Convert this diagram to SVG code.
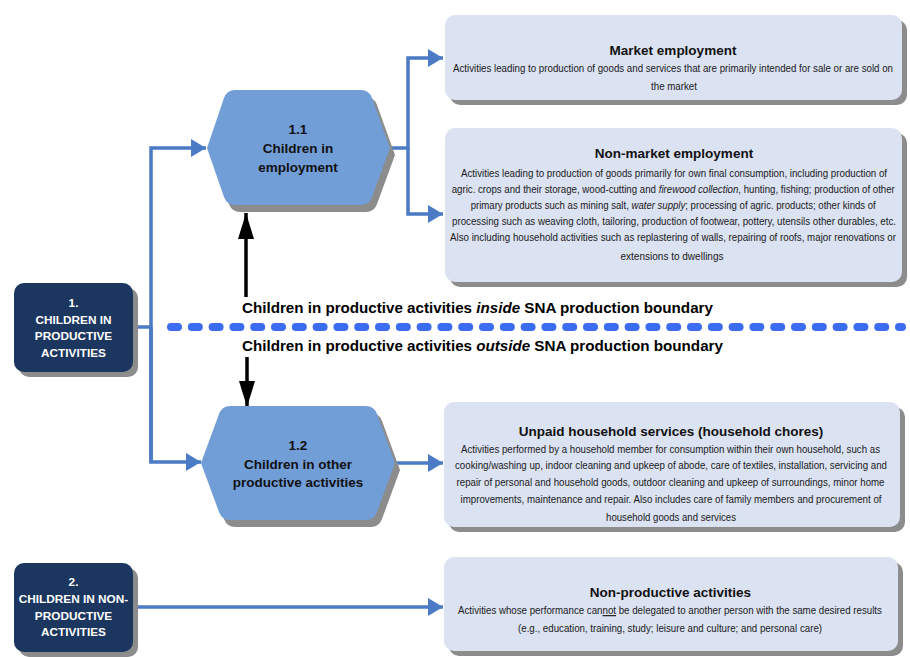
<svg xmlns="http://www.w3.org/2000/svg" width="910" height="657" viewBox="0 0 910 657">
<defs>
<style>
.conn{fill:none;stroke:#4a7bc4;stroke-width:3.5;}
.blk{fill:none;stroke:#000;stroke-width:3.5;}
.dash{fill:none;stroke:#3c6cf0;stroke-width:8;stroke-linecap:round;stroke-dasharray:7 13.8;}
.hex{fill:#729ed8;}
.shadow{fill:#8c8c8c;}
.navy{fill:#1b365f;}
.light{fill:#dbe2f2;}
.ntext{font-family:"Liberation Sans",Arial,sans-serif;font-weight:bold;font-size:11.8px;fill:#fff;text-anchor:middle;}
.htext{font-family:"Liberation Sans",Arial,sans-serif;font-weight:bold;font-size:13.5px;fill:#111;text-anchor:middle;}
.title{font-family:"Liberation Sans",Arial,sans-serif;font-weight:bold;font-size:13.5px;fill:#111;text-anchor:middle;}
.body{font-family:"Liberation Sans",Arial,sans-serif;font-size:11.5px;fill:#1a1a1a;text-anchor:middle;}
.seg{font-family:"Liberation Sans",Arial,sans-serif;font-size:11.5px;fill:#1a1a1a;}
.it{font-style:italic;}
.bound{font-family:"Liberation Sans",Arial,sans-serif;font-weight:bold;font-size:15.5px;fill:#000;}
</style>
<marker id="ab" markerUnits="userSpaceOnUse" markerWidth="16" markerHeight="18" refX="15" refY="9" orient="auto">
<path d="M0,0 L15,9 L0,18 Z" fill="#4a7bc4"/>
</marker>
<marker id="ak" markerUnits="userSpaceOnUse" markerWidth="26" markerHeight="16" refX="26" refY="8" orient="auto">
<path d="M0,0 L26,8 L0,16 Z" fill="#000"/>
</marker>
</defs>

<g id="connectors">
<polyline class="conn" points="133,327 151,327"/>
<polyline class="conn" points="151,462 151,148 206,148" marker-end="url(#ab)"/>
<polyline class="conn" points="151,327 151,462 201,462" marker-end="url(#ab)"/>
<polyline class="conn" points="390,148 408,148 408,58 443,58" marker-end="url(#ab)"/>
<polyline class="conn" points="408,148 408,214 443,214" marker-end="url(#ab)"/>
<line class="conn" x1="395" y1="463" x2="443" y2="463" marker-end="url(#ab)"/>
<line class="conn" x1="133" y1="607" x2="443" y2="607" marker-end="url(#ab)"/>
<line class="blk" x1="246" y1="297" x2="246" y2="213" marker-end="url(#ak)"/>
<line class="blk" x1="247" y1="357" x2="247" y2="407" marker-end="url(#ak)"/>
</g>

<g id="boundary">
<line class="dash" x1="171" y1="327" x2="902" y2="327"/>
<text class="bound" x="242" y="313" textLength="230" lengthAdjust="spacingAndGlyphs">Children in productive activities</text>
<text class="bound it" x="476.3" y="313" textLength="43.8" lengthAdjust="spacingAndGlyphs">inside</text>
<text class="bound" x="524.3" y="313" textLength="188.7" lengthAdjust="spacingAndGlyphs">SNA production boundary</text>
<text class="bound" x="242" y="351" textLength="230" lengthAdjust="spacingAndGlyphs">Children in productive activities</text>
<text class="bound it" x="476.2" y="351" textLength="53.9" lengthAdjust="spacingAndGlyphs">outside</text>
<text class="bound" x="534.3" y="351" textLength="188.7" lengthAdjust="spacingAndGlyphs">SNA production boundary</text>
</g>

<g id="node-1">
<rect class="shadow" x="19" y="288" width="119" height="89" rx="10"/>
<rect class="navy" x="14" y="283" width="119" height="89" rx="10"/>
<text class="ntext" x="73.5" y="307">1.</text>
<text class="ntext" x="73.5" y="323.5">CHILDREN IN</text>
<text class="ntext" x="73.5" y="340">PRODUCTIVE</text>
<text class="ntext" x="73.5" y="356.5">ACTIVITIES</text>
</g>

<g id="node-2">
<rect class="shadow" x="19" y="568" width="119" height="89" rx="10"/>
<rect class="navy" x="14" y="563" width="119" height="89" rx="10"/>
<text class="ntext" x="73.5" y="586">2.</text>
<text class="ntext" x="73.5" y="603">CHILDREN IN NON-</text>
<text class="ntext" x="73.5" y="620">PRODUCTIVE</text>
<text class="ntext" x="73.5" y="636">ACTIVITIES</text>
</g>

<g id="node-1-1">
<path class="shadow" transform="translate(5,7)" d="M207,148 L224,98 Q227,90 235,90 L361,90 Q369,90 372,98 L390,148 L372,197 Q369,205 361,205 L235,205 Q227,205 224,197 Z"/>
<path class="hex" d="M207,148 L224,98 Q227,90 235,90 L361,90 Q369,90 372,98 L390,148 L372,197 Q369,205 361,205 L235,205 Q227,205 224,197 Z"/>
<text class="htext" x="298" y="134">1.1</text>
<text class="htext" x="298" y="153">Children in</text>
<text class="htext" x="298" y="172">employment</text>
</g>

<g id="node-1-2">
<path class="shadow" transform="translate(5,7)" d="M201,463 L219,414 Q222,406 230,406 L366,406 Q374,406 377,414 L395,463 L377,512 Q374,520 366,520 L230,520 Q222,520 219,512 Z"/>
<path class="hex" d="M201,463 L219,414 Q222,406 230,406 L366,406 Q374,406 377,414 L395,463 L377,512 Q374,520 366,520 L230,520 Q222,520 219,512 Z"/>
<text class="htext" x="298" y="450">1.2</text>
<text class="htext" x="298" y="468.5">Children in other</text>
<text class="htext" x="298" y="487">productive activities</text>
</g>

<g id="market">
<rect class="shadow" x="450" y="20" width="457" height="85" rx="10"/>
<rect class="light" x="445" y="15" width="457" height="85" rx="10"/>
<text class="title" x="673" y="55">Market employment</text>
<text class="body" transform="translate(673,0) scale(0.83,1)" x="0" y="72" textLength="530.1" lengthAdjust="spacingAndGlyphs">Activities leading to production of goods and services that are primarily intended for sale or are sold on</text>
<text class="body" transform="translate(674,0) scale(0.83,1)" x="0" y="90" textLength="55.4" lengthAdjust="spacingAndGlyphs">the market</text>
</g>

<g id="non-market">
<rect class="shadow" x="450" y="133" width="457" height="154" rx="10"/>
<rect class="light" x="445" y="128" width="457" height="154" rx="10"/>
<text class="title" x="674" y="158">Non-market employment</text>
<text class="body" transform="translate(674,0) scale(0.83,1)" x="0" y="177" textLength="513.3" lengthAdjust="spacingAndGlyphs">Activities leading to production of goods primarily for own final consumption, including production of</text>
<text class="seg" transform="translate(451.7,0) scale(0.83,1)" x="0" y="193" textLength="246.1" lengthAdjust="spacingAndGlyphs">agric. crops and their storage, wood-cutting and</text>
<text class="seg it" transform="translate(658.7,0) scale(0.83,1)" x="0" y="193" textLength="95.9" lengthAdjust="spacingAndGlyphs">firewood collection</text>
<text class="seg" transform="translate(738.3,0) scale(0.83,1)" x="0" y="193" textLength="188.6" lengthAdjust="spacingAndGlyphs">, hunting, fishing; production of other</text>
<text class="seg" transform="translate(470.7,0) scale(0.83,1)" x="0" y="209" textLength="190.5" lengthAdjust="spacingAndGlyphs">primary products such as mining salt,</text>
<text class="seg it" transform="translate(631.5,0) scale(0.83,1)" x="0" y="209" textLength="64.8" lengthAdjust="spacingAndGlyphs">water supply</text>
<text class="seg" transform="translate(685.3,0) scale(0.83,1)" x="0" y="209" textLength="229.5" lengthAdjust="spacingAndGlyphs">; processing of agric. products; other kinds of</text>
<text class="body" transform="translate(674,0) scale(0.83,1)" x="0" y="225" textLength="534.9" lengthAdjust="spacingAndGlyphs">processing such as weaving cloth, tailoring, production of footwear, pottery, utensils other durables, etc.</text>
<text class="body" transform="translate(673,0) scale(0.83,1)" x="0" y="241" textLength="537.3" lengthAdjust="spacingAndGlyphs">Also including household  activities such as replastering of walls, repairing of roofs, major renovations or</text>
<text class="body" transform="translate(672,0) scale(0.83,1)" x="0" y="260" textLength="124.1" lengthAdjust="spacingAndGlyphs">extensions to dwellings</text>
</g>

<g id="unpaid">
<rect class="shadow" x="449" y="407" width="456" height="125" rx="10"/>
<rect class="light" x="444" y="402" width="456" height="125" rx="10"/>
<text class="title" x="671" y="436">Unpaid household services (household chores)</text>
<text class="body" transform="translate(670.5,0) scale(0.83,1)" x="0" y="453" textLength="504.8" lengthAdjust="spacingAndGlyphs">Activities performed by a household member for consumption within their own household, such as</text>
<text class="body" transform="translate(671,0) scale(0.83,1)" x="0" y="469" textLength="520.5" lengthAdjust="spacingAndGlyphs">cooking/washing up, indoor cleaning and upkeep of abode, care of textiles, installation, servicing and</text>
<text class="body" transform="translate(670.5,0) scale(0.83,1)" x="0" y="486" textLength="515.7" lengthAdjust="spacingAndGlyphs">repair of personal and household goods, outdoor cleaning and upkeep of surroundings, minor home</text>
<text class="body" transform="translate(671,0) scale(0.83,1)" x="0" y="503" textLength="507.2" lengthAdjust="spacingAndGlyphs">improvements, maintenance and repair. Also includes care of family members and procurement of</text>
<text class="body" transform="translate(671,0) scale(0.83,1)" x="0" y="521" textLength="156.6" lengthAdjust="spacingAndGlyphs">household goods and services</text>
</g>

<g id="non-productive">
<rect class="shadow" x="449" y="562" width="454" height="94" rx="10"/>
<rect class="light" x="444" y="557" width="454" height="94" rx="10"/>
<text class="title" x="670.5" y="597">Non-productive activities</text>
<text class="seg" transform="translate(458,0) scale(0.83,1)" x="0" y="614" textLength="174.1" lengthAdjust="spacingAndGlyphs">Activities whose performance can</text>
<text class="seg" transform="translate(602.5,0) scale(0.83,1)" x="0" y="614" textLength="16.3" lengthAdjust="spacingAndGlyphs" text-decoration="underline">not</text>
<text class="seg" transform="translate(618.7,0) scale(0.83,1)" x="0" y="614" textLength="317.1" lengthAdjust="spacingAndGlyphs">be delegated to another person with the same desired results</text>
<text class="body" transform="translate(670,0) scale(0.83,1)" x="0" y="632" textLength="366.3" lengthAdjust="spacingAndGlyphs">(e.g., education, training, study; leisure and culture; and personal care)</text>
</g>
</svg>
